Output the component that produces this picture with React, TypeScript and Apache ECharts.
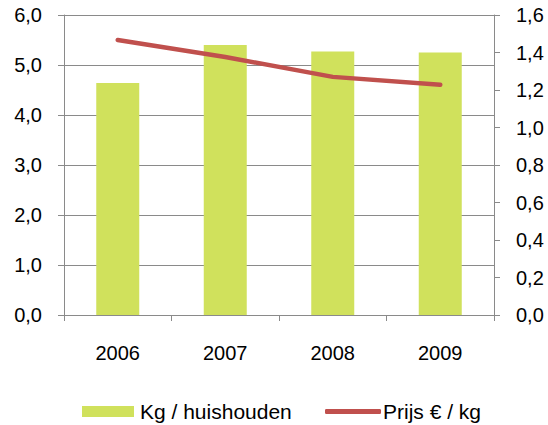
import React, { useEffect, useRef } from "react";
import * as echarts from "echarts";

const categories = ["2006", "2007", "2008", "2009"];
const kgPerHousehold = [4.64, 5.4, 5.27, 5.25];
const pricePerKg = [1.467, 1.376, 1.27, 1.228];
const barName = "Kg / huishouden";
const lineName = "Prijs € / kg";

const fmt = (v: number) => v.toFixed(1).replace(".", ",");

export default function App() {
  const ref = useRef<HTMLDivElement>(null);
  useEffect(() => {
    if (!ref.current) return;
    const chart = echarts.init(ref.current, undefined, { renderer: "svg" });
    const gray = "#8a8a8a";
    const font = "'Liberation Sans', Arial, sans-serif";
    chart.setOption({
      animation: false,
      textStyle: { fontFamily: font },
      grid: { left: 64, right: 54, top: 15, bottom: 110, outerBoundsMode: "none", containLabel: false },
      legend: [
        {
          left: 82,
          top: 401,
          padding: 0,
          data: [{ name: barName, icon: "rect" }],
          itemWidth: 52,
          itemHeight: 11,
          textStyle: { fontSize: 21, color: "#000", fontFamily: font, padding: [0, 0, 0, 1] },
        },
        {
          left: 325,
          top: 401,
          padding: 0,
          data: [{ name: lineName, icon: "roundRect" }],
          itemWidth: 56,
          itemHeight: 5,
          textStyle: { fontSize: 21, color: "#000", fontFamily: font, padding: [0, 0, 0, -3] },
        },
      ],
      xAxis: {
        type: "category",
        data: categories,
        boundaryGap: true,
        axisLine: { lineStyle: { color: gray, width: 1 } },
        axisTick: { show: true, length: 6, lineStyle: { color: gray } },
        axisLabel: { fontSize: 20, color: "#000", margin: 28, fontFamily: font },
      },
      yAxis: [
        {
          type: "value",
          min: 0,
          max: 6,
          interval: 1,
          position: "left",
          axisLine: { show: true, lineStyle: { color: gray } },
          axisTick: { show: true, length: 6, lineStyle: { color: gray } },
          splitLine: { show: true, lineStyle: { color: gray, width: 1 } },
          axisLabel: { fontSize: 20, color: "#000", margin: 22, formatter: fmt, fontFamily: font },
        },
        {
          type: "value",
          min: 0,
          max: 1.6,
          interval: 0.2,
          position: "right",
          axisLine: { show: true, lineStyle: { color: gray } },
          axisTick: { show: true, length: 6, lineStyle: { color: gray } },
          splitLine: { show: false },
          axisLabel: { fontSize: 20, color: "#000", margin: 22, formatter: fmt, fontFamily: font },
        },
      ],
      series: [
        {
          name: barName,
          type: "bar",
          data: kgPerHousehold,
          barWidth: "40%",
          itemStyle: { color: "#D0E15C" },
          yAxisIndex: 0,
        },
        {
          name: lineName,
          type: "line",
          data: pricePerKg,
          yAxisIndex: 1,
          symbol: "none",
          lineStyle: { color: "#C0504D", width: 4.5, cap: "round", join: "round" },
          itemStyle: { color: "#C0504D" },
        },
      ],
    });
    return () => chart.dispose();
  }, []);
  return (
    <div
      ref={ref}
      style={{ position: "fixed", left: 0, top: 0, width: 548, height: 425, background: "#fff" }}
    />
  );
}
